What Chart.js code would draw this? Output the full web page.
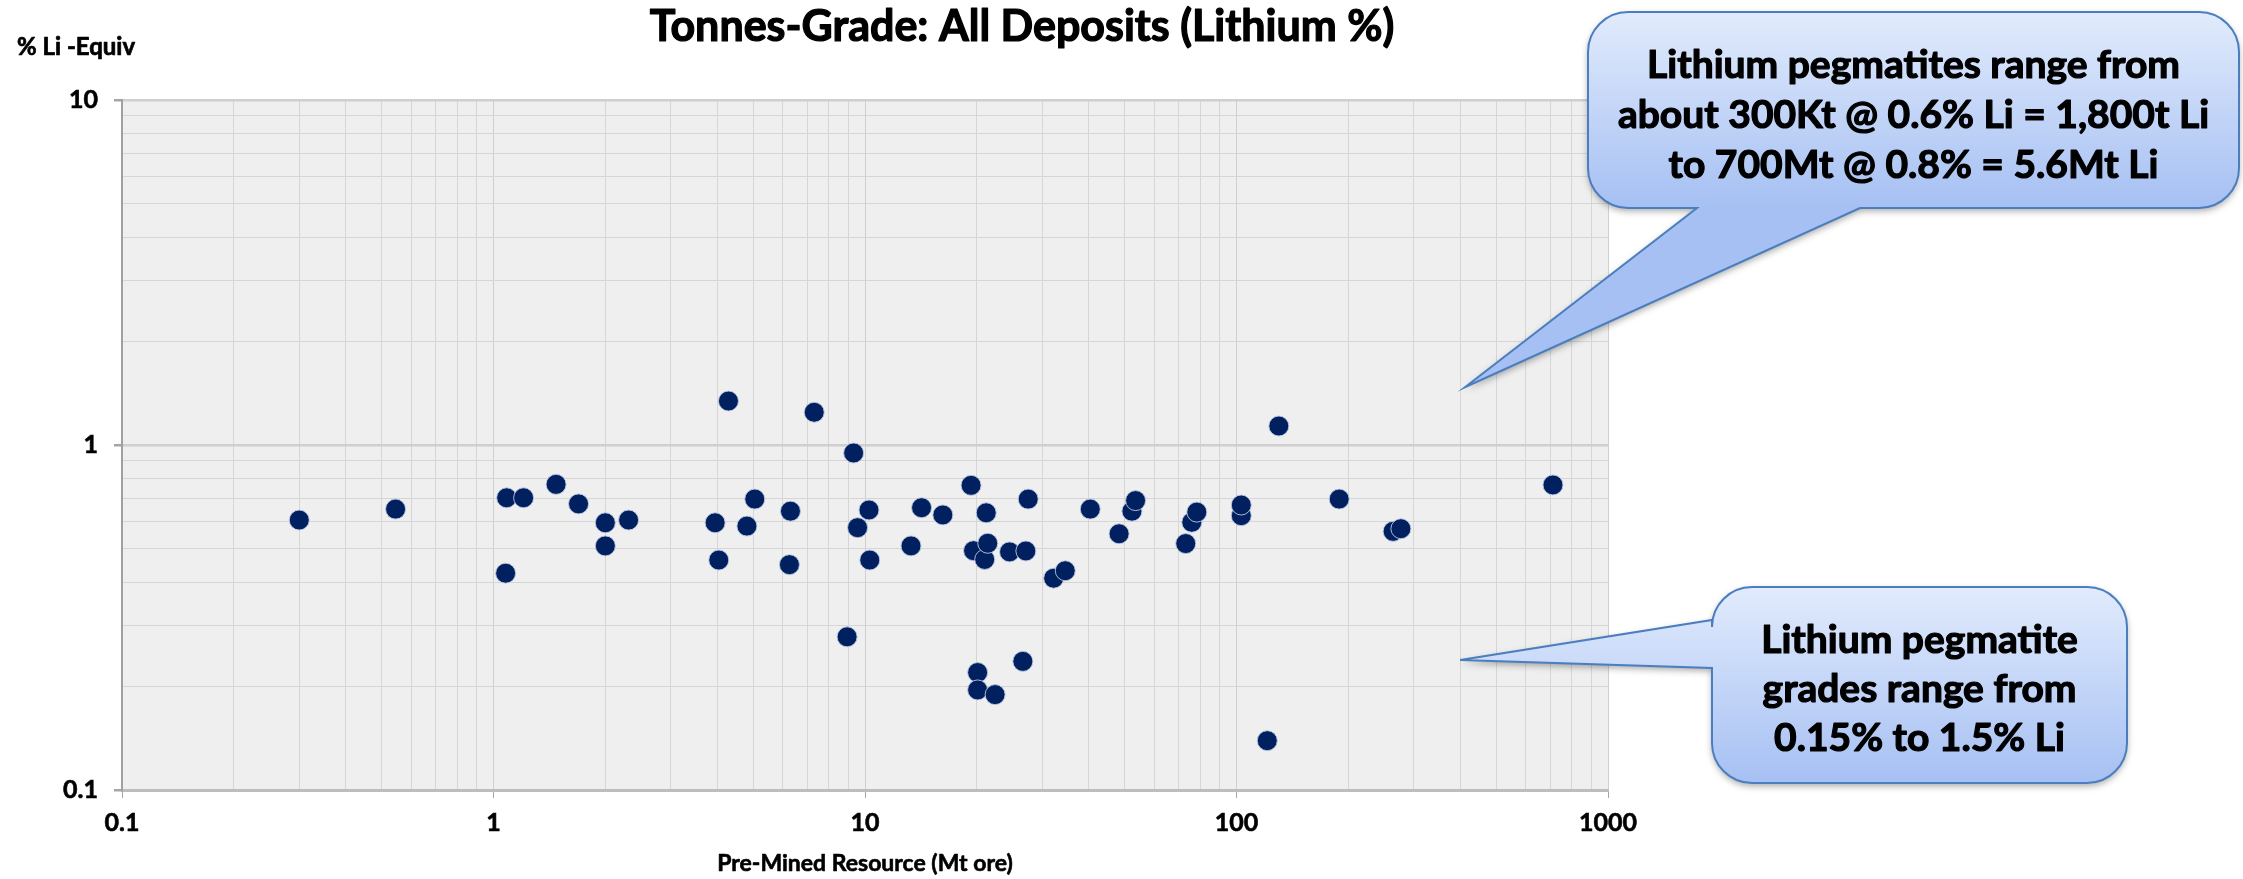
<!DOCTYPE html>
<html>
<head>
<meta charset="utf-8">
<script src="https://cdn.jsdelivr.net/npm/chart.js@4.4.1/dist/chart.umd.min.js"></script>
<style>
  html, body { margin: 0; padding: 0; background: #fff; }
  #wrap { width: 2243px; height: 879px; position: relative; }
</style>
</head>
<body>
<div id="wrap"><canvas id="chart"></canvas></div>
<script>
// tonnes-grade scatter, lithium deposits (log-log)

const massMt = [
  0.30, 0.545, 1.085, 1.205, 1.078, 1.474, 1.694, 2.0, 2.0, 2.31,
  3.95, 4.04, 4.29, 4.81, 5.05, 6.3, 6.26, 7.3, 9.32, 9.55,
  8.95, 10.25, 10.3, 13.3, 14.2, 16.2, 19.3, 19.6, 20.1, 20.1,
  21.0, 21.2, 21.4, 22.4, 24.5, 26.6, 27.1, 27.5, 32.2, 34.6,
  40.4, 48.3, 52.3, 53.5, 73.0, 75.8, 78.2, 103, 103, 121,
  130, 189, 264, 277, 711,
];
const gradeLi = [
  0.606, 0.652, 0.703, 0.703, 0.425, 0.769, 0.675, 0.595, 0.510, 0.606,
  0.595, 0.464, 1.341, 0.582, 0.697, 0.643, 0.450, 1.244, 0.948, 0.576,
  0.278, 0.648, 0.464, 0.510, 0.658, 0.627, 0.764, 0.494, 0.219, 0.195,
  0.466, 0.636, 0.519, 0.189, 0.490, 0.236, 0.493, 0.697, 0.411, 0.432,
  0.652, 0.553, 0.643, 0.690, 0.518, 0.597, 0.639, 0.624, 0.670, 0.139,
  1.135, 0.697, 0.562, 0.572, 0.766,
];

const xMajor = [0.1, 1, 10, 100, 1000];
const xTickLabels = ['0.1', '1', '10', '100', '1000'];
const yMajor = [0.1, 1, 10];
const yTickLabels = ['0.1', '1', '10'];

const TITLE = 'Tonnes-Grade: All Deposits (Lithium %)';
const Y_TITLE = '% Li -Equiv';
const X_TITLE = 'Pre-Mined Resource (Mt ore)';

const noteTop = ['Lithium pegmatites range from', 'about 300Kt @ 0.6% Li = 1,800t Li', 'to 700Mt @ 0.8% = 5.6Mt Li'];
const noteBottom = ['Lithium pegmatite', 'grades range from', '0.15% to 1.5% Li'];
// where the callout pointers touch the plot (data units)
const tipTop = { x: 412, y: 1.47 };
const tipBottom = { x: 400, y: 0.238 };

const FONT = "Lato, 'Open Sans', sans-serif";
const DOT = '#002060';

// every 1..9 step inside the decades, so minor gridlines show
function logSteps(majors) {
  const out = [];
  for (let i = 0; i < majors.length - 1; i++) {
    for (let m = 1; m < 10; m++) out.push(+(majors[i] * m).toPrecision(4));
  }
  out.push(majors[majors.length - 1]);
  return out;
}

const isMajor = (list, v) => list.some(m => Math.abs(m - v) / m < 1e-6);

function axisGrid(majors, majorWidth) {
  return {
    color: c => isMajor(majors, c.tick.value) ? '#cfcfcf' : '#d6d6d6',
    lineWidth: c => isMajor(majors, c.tick.value) ? majorWidth : 1,
    tickColor: c => isMajor(majors, c.tick.value) ? '#a6a6a6' : 'rgba(0,0,0,0)',
    tickLength: 8,
    drawTicks: true,
  };
}

// bold text with a hairline stroke, closer to the heavy original lettering
function heavyText(ctx, t, x, y, sw) {
  ctx.lineWidth = sw;
  ctx.strokeStyle = ctx.fillStyle;
  ctx.lineJoin = 'round';
  ctx.strokeText(t, x, y);
  ctx.fillText(t, x, y);
}

function roundedCallout(ctx, box, tip, side, base, lines, lineY) {
  const { x, y, w, h, r } = box;
  ctx.save();
  ctx.beginPath();
  ctx.moveTo(x + r, y);
  ctx.lineTo(x + w - r, y);
  ctx.arcTo(x + w, y, x + w, y + r, r);
  ctx.lineTo(x + w, y + h - r);
  ctx.arcTo(x + w, y + h, x + w - r, y + h, r);
  if (side === 'bottom') {
    ctx.lineTo(base[1], y + h);
    ctx.lineTo(tip.x, tip.y);
    ctx.lineTo(base[0], y + h);
  }
  ctx.lineTo(x + r, y + h);
  ctx.arcTo(x, y + h, x, y + h - r, r);
  if (side === 'left') {
    ctx.lineTo(x, base[1]);
    ctx.lineTo(tip.x, tip.y);
    ctx.lineTo(x, base[0]);
  }
  ctx.lineTo(x, y + r);
  ctx.arcTo(x, y, x + r, y, r);
  ctx.closePath();

  const g = ctx.createLinearGradient(0, y, 0, y + h);
  g.addColorStop(0, '#e1ebfc');
  g.addColorStop(1, '#a6c0f3');
  ctx.shadowColor = 'rgba(0,0,0,0.35)';
  ctx.shadowBlur = 7;
  ctx.shadowOffsetY = 3;
  ctx.fillStyle = g;
  ctx.fill();
  ctx.shadowColor = 'transparent';
  ctx.strokeStyle = '#4a7ebf';
  ctx.lineWidth = 2;
  ctx.stroke();

  ctx.fillStyle = '#000';
  ctx.font = `bold 39px ${FONT}`;
  ctx.textAlign = 'center';
  ctx.textBaseline = 'middle';
  lines.forEach((t, i) => heavyText(ctx, t, x + w / 2, lineY[i], 1.2));
  ctx.restore();
}

const decor = {
  id: 'decor',
  beforeDraw(chart) {
    const { ctx, chartArea: a } = chart;
    ctx.save();
    ctx.fillStyle = '#fff';
    ctx.fillRect(0, 0, chart.width, chart.height);
    ctx.fillStyle = '#efefef';
    ctx.fillRect(a.left, a.top, a.right - a.left, a.bottom - a.top);
    ctx.restore();
  },
  afterDraw(chart) {
    const { ctx, scales, chartArea: a } = chart;
    ctx.save();
    ctx.fillStyle = '#000';
    ctx.textBaseline = 'alphabetic';
    ctx.textAlign = 'center';
    ctx.font = `bold 43px ${FONT}`;
    heavyText(ctx, TITLE, 1022, 41, 1.2);
    ctx.font = `bold 23px ${FONT}`;
    heavyText(ctx, X_TITLE, (a.left + a.right) / 2, 871, 0.6);
    ctx.textAlign = 'left';
    ctx.font = `bold 24px ${FONT}`;
    heavyText(ctx, Y_TITLE, 17, 55, 0.7);
    ctx.restore();

    const px = p => ({ x: scales.x.getPixelForValue(p.x), y: scales.y.getPixelForValue(p.y) });
    roundedCallout(ctx, { x: 1588, y: 12, w: 651, h: 196, r: 40 }, px(tipTop), 'bottom',
      [1697, 1860], noteTop, [65, 115, 165]);
    roundedCallout(ctx, { x: 1712, y: 587, w: 415, h: 196, r: 40 }, px(tipBottom), 'left',
      [620, 668], noteBottom, [640, 689, 738]);
  },
};

const tickFont = { family: FONT, size: 25, weight: 'bold' };

new Chart(document.getElementById('chart'), {
  type: 'scatter',
  data: {
    datasets: [{
      data: massMt.map((m, i) => ({ x: m, y: gradeLi[i] })),
      backgroundColor: DOT,
      borderColor: 'rgba(190,200,225,0.9)',
      borderWidth: 1,
      pointRadius: 10,
      pointHoverRadius: 10,
    }],
  },
  options: {
    responsive: true,
    maintainAspectRatio: false,
    animation: false,
    events: [],
    layout: { padding: { left: 0, right: 635, top: 100, bottom: 0 } },
    plugins: { legend: { display: false }, tooltip: { enabled: false } },
    scales: {
      x: {
        type: 'logarithmic',
        min: 0.1,
        max: 1000,
        afterBuildTicks: s => { s.ticks = logSteps(xMajor).map(v => ({ value: v })); },
        afterFit: s => { s.height = 89; },
        grid: axisGrid(xMajor, 1),
        border: { color: '#bdbdbd', width: 3 },
        ticks: {
          autoSkip: false,
          maxRotation: 0,
          padding: 10,
          color: '#000',
          textStrokeColor: '#000',
          textStrokeWidth: 0.6,
          font: tickFont,
          callback: v => { const i = xMajor.findIndex(m => Math.abs(m - v) / m < 1e-6); return i < 0 ? '' : xTickLabels[i]; },
        },
      },
      y: {
        type: 'logarithmic',
        min: 0.1,
        max: 10,
        afterBuildTicks: s => { s.ticks = logSteps(yMajor).map(v => ({ value: v })); },
        afterFit: s => { s.width = 122; },
        grid: axisGrid(yMajor, 2.5),
        border: { color: '#a0a0a0', width: 2 },
        ticks: {
          autoSkip: false,
          padding: 16,
          color: '#000',
          textStrokeColor: '#000',
          textStrokeWidth: 0.6,
          font: tickFont,
          callback: v => { const i = yMajor.findIndex(m => Math.abs(m - v) / m < 1e-6); return i < 0 ? '' : yTickLabels[i]; },
        },
      },
    },
  },
  plugins: [decor],
});
</script>
</body>
</html>
